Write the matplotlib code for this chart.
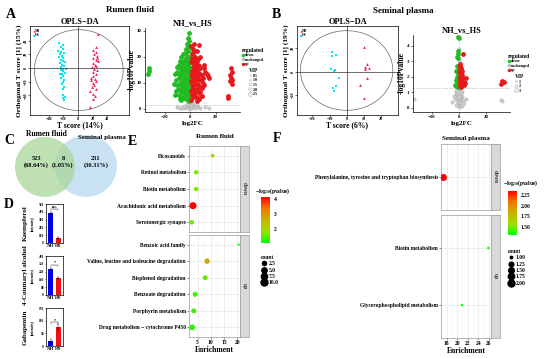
import matplotlib
matplotlib.use('Agg')
import matplotlib.pyplot as plt
from matplotlib.patches import Ellipse, Circle
from matplotlib.lines import Line2D
from matplotlib.colors import LinearSegmentedColormap, Normalize
from matplotlib.cm import ScalarMappable
import numpy as np

plt.rcParams['font.family'] = ['Liberation Serif', 'DejaVu Serif']
plt.rcParams['font.weight'] = 'bold'
plt.rcParams['axes.labelweight'] = 'bold'
plt.rcParams['axes.titleweight'] = 'bold'
plt.rcParams['axes.linewidth'] = 0.5
plt.rcParams['xtick.major.size'] = 1.5
plt.rcParams['ytick.major.size'] = 1.5
plt.rcParams['xtick.major.width'] = 0.4
plt.rcParams['ytick.major.width'] = 0.4
plt.rcParams['xtick.major.pad'] = 1
plt.rcParams['ytick.major.pad'] = 1
plt.rcParams['mathtext.default'] = 'regular'

# ---------------- data ----------------
# A: OPLS-DA rumen fluid (T score, orthogonal T score)
A_nh = [(28, 50), (24, 30), (21, 27), (25, 24), (22, 20), (26, 18), (20, 15), (24, 12), (27, 10),
        (21, 8), (23, 5), (25, 3), (19, 1), (22, -1), (26, -3), (20, -6), (24, -8), (21, -11),
        (18, -14), (23, -16), (25, -19), (20, -22), (22, -25), (19, -28), (24, -30), (17, -33),
        (21, -38), (23, -41), (20, -45), (16, -57), (26, 14), (18, -18)]
A_hs = [(-26, 36), (-20, 34), (-24, 30), (-21, 28), (-27, 25), (-23, 24), (-19, 22), (-25, 20),
        (-22, 18), (-26, 16), (-20, 15), (-24, 12), (-21, 10), (-18, 9), (-25, 7), (-22, 5),
        (-19, 3), (-23, 1), (-20, -1), (-24, -3), (-21, -5), (-18, -7), (-22, -9), (-20, -12),
        (-23, -14), (-19, -17), (-21, -20), (-22, -24), (-19, -27), (-21, -30), (-20, -40),
        (-18, -42), (-21, -44), (-19, -47), (-17, -2), (-25, -8)]

# A: volcano rumen fluid (log2FC, -log10P)
A_down = [(-1, 29), (-1.5, 27), (-0.8, 24), (-2, 22), (-3, 21), (-1, 20), (-4, 19), (-2.5, 18.5),
          (-6, 18), (-5, 17.5), (-1.5, 17), (-3.5, 16.5), (-7, 16), (-8, 15.5), (-2, 15),
          (-4.5, 15), (-6, 14.5), (-1, 14), (-12, 13.5), (-3, 13.5), (-5, 13), (-7.5, 12.5),
          (-2, 12), (-9, 12), (-4, 11.5), (-6.5, 11), (-1.5, 10.5), (-3, 10), (-8, 10), (-5, 9.5),
          (-2.5, 9), (-10, 9), (-4, 8.5), (-6, 8), (-1, 8), (-3.5, 7.5), (-7, 7), (-2, 6.5),
          (-5, 6), (-9, 5.5), (-11, 7), (-3, 5), (-1.5, 4.5), (-6, 4.5), (-4, 4), (-2, 3.5),
          (-8, 3.8), (-12, 5.5), (-0.7, 3), (-32, 14.5), (-33, 13.5), (-32.5, 15.5), (-5.5, 21),
          (-7, 20), (-3.5, 23), (-9, 17), (-10.5, 14), (-0.5, 26), (-2.5, 20), (-4.5, 17),
          (-6.5, 16), (-3, 18), (-1, 16), (-5, 15.5), (-7, 14), (-2.5, 14), (-4, 13), (-8.5, 13.5),
          (-6, 12.5), (-1.2, 12), (-3.5, 11), (-5.5, 10.5), (-7.5, 9), (-2, 10), (-4.5, 7),
          (-6.5, 6.5), (-1, 6), (-3, 3.8), (-5, 4.3), (-9.5, 7.5), (-2.8, 25), (-1.8, 23.5),
          (-4.2, 21.5), (-0.6, 18.5), (-8, 18.5), (-10, 16), (-11, 11), (-13, 9.5), (-7, 3.5)]
A_up = [(1, 24), (2, 23), (3, 22), (1.5, 21), (4, 20), (2.5, 19), (5, 18.5), (1, 18), (6, 17),
        (3.5, 16.5), (7, 24.5), (2, 16), (8, 15.5), (4.5, 15), (1.5, 14.5), (6, 14), (3, 13.5),
        (9, 13), (5, 12.5), (2, 12), (7, 11.5), (4, 11), (1, 10.5), (10, 10), (6, 9.5), (3, 9),
        (8, 8.5), (2, 8), (5, 7.5), (1, 7), (4, 6.5), (7, 6), (3, 5.5), (9, 5), (2, 4.5), (6, 4),
        (1, 3.5), (5, 3.2), (12, 14), (13, 13.5), (14, 12.5), (15, 12), (32, 15.5), (33, 14),
        (31.5, 13), (32, 12), (33, 11), (31, 10.5), (32.5, 9.5), (30, 5), (29.5, 4), (11, 17),
        (8, 20), (5.5, 22), (10, 12), (3, 25), (2.5, 21.5), (4, 17.5), (6.5, 19), (1.2, 19.5),
        (3, 15), (5, 16), (7.5, 13.5), (1, 13), (4, 13), (6, 11.5), (2.5, 10.5), (8.5, 11),
        (5, 9.5), (1.5, 9), (3.5, 7), (6.5, 7.5), (2, 6), (8, 6.5), (4.5, 4.5), (1.5, 5.5),
        (7, 3.8), (9.5, 8), (3.5, 19), (2, 17.5), (5.5, 13.5), (11, 9), (10.5, 15.5), (7, 16.5)]
A_unch = [(0, 1), (0.5, 2), (-0.5, 1.5), (1, 0.5), (-1, 0.8), (2, 1.2), (-2, 0.6), (0, 0.3),
          (3, 0.9), (-3, 1.1), (0.2, 3), (-0.2, 4), (0.1, 6), (0, 8), (-0.1, 10), (0.3, 12),
          (-0.3, 14), (0, 16), (0.1, 18), (0, 20), (-0.2, 22), (0.2, 1.8), (4, 0.4), (-4, 0.5),
          (6, 0.7), (-6, 0.3), (8, 0.5), (-8, 0.4), (12, 0.6), (15, 0.3), (-10, 0.8), (1.5, 2.5),
          (-1.5, 2.4), (0.5, 0.2), (-0.5, 0.1), (2.5, 2), (-2.5, 1.8), (1, 1.4), (-1, 2.1),
          (5, 1.3), (-5, 1.2), (0.2, 5), (-0.1, 7), (0.1, 9), (0, 11)]

# B: OPLS-DA seminal plasma
B_nh = [(10.4, 21.1), (11.6, 6.7), (10.8, 3.9), (11.0, 2.5), (13.1, 3.3), (12.0, -5.8),
        (7.9, -11.4), (10.1, -22.5)]
B_hs = [(-8.8, 16.4), (-8.4, 13.6), (-6.1, 14.4), (-9.0, 2.2), (-7.0, 1.6), (-7.5, 0.6),
        (-4.7, -5.6), (-7.8, -14.2), (-6.1, -12.2), (-7.3, -16.4)]

# B: volcano seminal plasma
B_down = [(-0.5, 4.6), (-0.3, 4.5), (-1, 3.7), (-0.8, 3.5), (-1.5, 3.3), (-0.5, 3.2), (-1.2, 2.7),
          (-0.3, 2.5), (-2, 2.4), (-1, 2.3), (-0.6, 2.1), (-1.8, 2), (-0.4, 1.9), (-2.5, 1.8),
          (-1.2, 1.7), (-0.8, 1.6), (-3, 1.5), (-1.6, 1.5), (-0.3, 1.45), (-2.2, 1.4), (-1, 1.38)]
B_up = [(0.5, 2.8), (1, 2.7), (1.5, 2.6), (0.8, 2.5), (2, 2.4), (0.4, 2.3), (1.2, 2.2), (2.5, 2.1),
        (0.6, 2.0), (1.8, 1.95), (3, 1.9), (0.9, 1.85), (2.2, 1.8), (1.4, 1.75), (4, 1.7),
        (0.5, 1.65), (2.8, 1.6), (1.1, 1.55), (3.5, 1.5), (2, 1.45), (0.7, 1.4), (1.6, 1.35),
        (5, 1.9), (4.5, 1.6), (3, 3.5), (32, 1.75), (33, 1.65), (31.5, 1.55)]
B_unch = [(0, 0.05), (0.5, 0.2), (-0.5, 0.3), (1, 0.4), (-1, 0.5), (1.5, 0.6), (-1.5, 0.7), (2, 0.8),
          (-2, 0.9), (2.5, 1.0), (-2.5, 1.1), (3, 0.5), (-3, 0.6), (0.3, 1.2), (-0.3, 0.9),
          (0.8, 0.7), (-0.8, 0.4), (4, 0.3), (-4, 0.8), (5, 0.6), (-5, 0.4), (1.2, 1.0),
          (-1.2, 1.15), (0.1, 0.6), (-0.1, 0.8), (2, 0.15), (-2, 0.2), (0, 2.5), (0, 3.0),
          (0.1, 3.8), (0, 1.6), (-33, 0.6), (31, 0.5), (32, 0.45)]

# C: Venn
venn_counts = [523, 8, 231]
venn_pct = ['68.64%', '1.05%', '30.31%']

# D: bar charts
D_names = ['Kaempferol', '4-Coumaryl alcohol', 'Gabapentin']
D_nh = [380, 262, 20]
D_hs = [65, 175, 75]
D_nh_err = [15, 10, 8]
D_hs_err = [10, 8, 10]
D_ymax = [500, 400, 150]
D_sig = ['n.s.', '*', '*']

# E: KEGG enrichment, rumen fluid
E_down_terms = ['Eicosanoids', 'Retinol metabolism', 'Biotin metabolism',
                'Arachidonic acid metabolism', 'Serotonergic synapse']
E_down_enrich = [10.7, 4.5, 4.5, 3.3, 2.9]
E_down_count = [2, 3, 3, 10, 3]
E_down_p = [2.1, 1.7, 1.7, 4.13, 1.6]
E_up_terms = ['Benzoic acid family', 'Valine, leucine and isoleucine degradation',
              'Bisphenol degradation', 'Benzoate degradation', 'Porphyrin metabolism',
              'Drug metabolism \u2212 cytochrome P450']
E_up_enrich = [20.5, 8.6, 7.9, 4.1, 3.6, 3.0]
E_up_count = [1, 5, 4, 4, 4, 6]
E_up_p = [1.1, 2.7, 1.6, 1.4, 1.4, 1.3]

# F: KEGG enrichment, seminal plasma
F_down_terms = ['Phenylalanine, tyrosine and tryptophan biosynthesis']
F_down_enrich = [17.3]
F_down_count = [2]
F_down_p = [2.34]
F_up_terms = ['Biotin metabolism', 'Glycerophospholipid metabolism']
F_up_enrich = [25.9, 20.9]
F_up_count = [1, 1]
F_up_p = [1.31, 1.31]

RED = '#ee1b4f'
CYAN = '#00e6f0'
GREEN = '#22bb22'
VRED = '#e41a1c'

# ---------------- figure ----------------
W, H = 550, 359
fig = plt.figure(figsize=(5.5, 3.59), dpi=100)


def add_ax(x0, y0, x1, y1):
    return fig.add_axes([x0 / W, 1 - y1 / H, (x1 - x0) / W, (y1 - y0) / H])


def ftext(x, y, s, **kw):
    fig.text(x / W, 1 - y / H, s, **kw)


def opls(box, xlim, ylim, ell, nh, hs, xlabel, ylabel, xticks, yticks):
    ax = add_ax(*box)
    ax.add_patch(Ellipse(ell[:2], ell[2], ell[3], fill=False, ec='#666666', lw=0.5))
    ax.axhline(0, color='#333333', lw=0.5)
    ax.axvline(0, color='#333333', lw=0.5)
    ax.scatter([p[0] for p in nh], [p[1] for p in nh], marker='^', s=4, c=RED, lw=0, label='NH')
    ax.scatter([p[0] for p in hs], [p[1] for p in hs], marker='s', s=4, c=CYAN, lw=0, label='HS')
    ax.set_xlim(*xlim)
    ax.set_ylim(*ylim)
    ax.set_xticks(xticks)
    ax.set_yticks(yticks)
    ax.tick_params(labelsize=3, pad=0.5, length=1.2)
    plt.setp(ax.get_yticklabels(), rotation=90, va='center')
    ax.set_title('OPLS\u2212DA', fontsize=6, pad=1.5)
    ax.set_xlabel(xlabel, fontsize=5.5, labelpad=0)
    ax.set_ylabel(ylabel, fontsize=5.3, labelpad=1)
    ax.legend(loc='upper left', fontsize=2.5, frameon=False, handletextpad=0.1,
              borderpad=0.3, labelspacing=0.2, markerscale=0.8, handlelength=0.6)
    return ax


def volcano(box, xlim, ylim, down, up, unch, xticks, yticks, leg_xy, vip_labels, vip_sizes):
    ax = add_ax(*box)
    ax.scatter([p[0] for p in unch], [p[1] for p in unch], s=6, c='#cccccc',
               edgecolors='#999999', lw=0.2, zorder=2)
    ax.scatter([p[0] for p in down], [p[1] for p in down], s=12, c=GREEN, lw=0, zorder=3)
    ax.scatter([p[0] for p in up], [p[1] for p in up], s=12, c=VRED, lw=0, zorder=3)
    ax.axhline(1.3, color='#aaaaaa', lw=0.5, ls=(0, (2, 2)), zorder=1)
    ax.axvline(0, color='#aaaaaa', lw=0.5, ls=(0, (1, 1.5)), zorder=1)
    ax.set_xlim(*xlim)
    ax.set_ylim(*ylim)
    ax.set_xticks(xticks)
    ax.set_yticks(yticks)
    ax.tick_params(labelsize=3.5)
    for s in ['top', 'right']:
        ax.spines[s].set_visible(False)
    ax.set_title('NH_vs_HS', fontsize=6, pad=2)
    ax.set_xlabel('log2FC', fontsize=5, labelpad=1)
    ax.set_ylabel('-log10Pvalue', fontsize=5.5, labelpad=1)
    h1 = [Line2D([], [], marker='o', ls='', color=GREEN, ms=1.5),
          Line2D([], [], marker='o', ls='', color='#bbbbbb', ms=1.5),
          Line2D([], [], marker='o', ls='', color=VRED, ms=1.5)]
    fig.legend(h1, ['down', 'unchanged', 'up'], title='regulated', loc='upper left',
               bbox_to_anchor=(leg_xy[0] / W, 1 - leg_xy[1] / H), fontsize=3, title_fontsize=4,
               frameon=False, handletextpad=0.1, labelspacing=0.1, borderpad=0,
               handlelength=0.6, alignment='left')
    h2 = [Line2D([], [], marker='o', ls='', mfc='#eeeeee', mec='#aaaaaa', mew=0.3, ms=m)
          for m in vip_sizes]
    fig.legend(h2, vip_labels, title='VIP', loc='upper left',
               bbox_to_anchor=(leg_xy[0] / W + 0.012, 1 - (leg_xy[1] + 20) / H), fontsize=3,
               title_fontsize=4, frameon=False, handletextpad=0.2, labelspacing=0.15,
               borderpad=0, handlelength=0.8, alignment='left')
    return ax


# panel letters and headings
ftext(11, 14, 'A', fontsize=10, ha='center', va='center')
ftext(276, 14, 'B', fontsize=10, ha='center', va='center')
ftext(9, 140, 'C', fontsize=10, ha='center', va='center')
ftext(9, 204, 'D', fontsize=10, ha='center', va='center')
ftext(132, 141, 'E', fontsize=10, ha='center', va='center')
ftext(277, 139, 'F', fontsize=10, ha='center', va='center')
ftext(130, 10, 'Rumen fluid', fontsize=6.5, ha='center', va='center')
ftext(403, 11, 'Seminal plasma', fontsize=6.5, ha='center', va='center')

opls((30, 26, 129, 115), (-66, 70), (-68.6, 61.4), (1, -3, 122, 118), A_nh, A_hs,
     'T score (14%)', 'Orthogonal T score [1] (15%)', [-40, -20, 0, 20, 40], [-40, -20, 0, 20, 40])
opls((297, 26, 398, 115), (-29, 30), (-37, 39), (0, 1, 54, 68), B_nh, B_hs,
     'T score (6%)', 'Orthogonal T score [1] (19%)', [-20, -10, 0, 10, 20], [-20, 0, 20])

volcano((145, 28, 240, 112), (-35.3, 39), (-1.2, 31), A_down, A_up, A_unch,
        [-20, 0, 20], [0, 10, 20, 30], (240, 46), ['0.5', '1.0', '1.5', '2.0', '2.5'],
        [1, 1.5, 2, 2.5, 3])
volcano((413, 35, 510, 112), (-34, 37.8), (-0.26, 4.7), B_down, B_up, B_unch,
        [-20, 0, 20], [0, 1, 2, 3, 4], (506, 52), ['1', '2', '3'], [1.5, 2.2, 3])

# C: Venn
axc = add_ax(0, 128, 130, 200)
axc.set_xlim(0, 130)
axc.set_ylim(200, 128)
axc.axis('off')
axc.add_patch(Circle((86, 166), 31, fc='#c9e2f3', ec='none'))
axc.add_patch(Circle((45, 167), 30, fc='#a8d69a', ec='none', alpha=0.75))
for xc, n, p in zip([36, 63, 96], venn_counts, venn_pct):
    axc.text(xc, 162, f'{n}\n({p})', fontsize=4.5, ha='center', va='center', linespacing=1.1)
ftext(46, 134, 'Rumen fluid', fontsize=5.5, ha='center', va='center')
ftext(102, 138, 'Seminal plasma', fontsize=5, ha='center', va='center')

# D: bars
D_boxes = [(46, 204, 63, 243), (46, 256, 63, 295), (46, 308, 63, 346)]
for i, box in enumerate(D_boxes):
    ax = add_ax(*box)
    ax.bar([0, 1], [D_nh[i], D_hs[i]], width=0.65, color=['#0000ee', '#ee1111'],
           yerr=[D_nh_err[i], D_hs_err[i]], error_kw=dict(lw=0.3, capsize=0.6, capthick=0.3))
    ax.set_xlim(-0.6, 1.6)
    ax.set_ylim(0, D_ymax[i])
    ax.set_yticks(np.linspace(0, D_ymax[i], 6 if D_ymax[i] != 150 else 4))
    ax.set_xticks([0, 1], ['NH', 'HS'])
    ax.tick_params(axis='y', labelsize=2.5, length=1, pad=0.5)
    ax.tick_params(axis='x', labelsize=3.5, length=0, pad=1)
    top = max(D_nh[i], D_hs[i]) + 0.12 * D_ymax[i]
    ax.plot([0, 0, 1, 1], [top - 0.03 * D_ymax[i], top, top, top - 0.03 * D_ymax[i]],
            color='black', lw=0.3)
    ax.text(0.5, top, D_sig[i], fontsize=3, ha='center', va='bottom')
    yc = (box[1] + box[3]) / 2
    ftext(25, yc, D_names[i], fontsize=5, rotation=90, ha='center', va='center')
    ftext(33, yc, '(intensity)', fontsize=2.5, rotation=90, ha='center', va='center')

# E / F: enrichment bubble plots
cmap = LinearSegmentedColormap.from_list('gr', ['#00ff00', '#9ee000', '#c8b400', '#f07800', '#ff0000'])


def size_of(c, cmin, cmax, dmin, dmax):
    d = dmin + (dmax - dmin) * np.sqrt((np.array(c, float) - cmin) / (cmax - cmin))
    return (d * 0.72) ** 2


def facet(box, sbox, terms, enrich, count, pv, norm, xlim, xticks, minor, label, csz, show_x):
    ax = add_ax(*box)
    n = len(terms)
    ys = np.arange(n)
    ax.set_axisbelow(True)
    ax.scatter(enrich, ys, s=size_of(count, *csz), c=pv, cmap=cmap, norm=norm, lw=0, zorder=3)
    ax.set_ylim(n - 0.42, -0.58)
    ax.set_xlim(*xlim)
    ax.set_yticks(ys, terms)
    ax.set_xticks(xticks)
    ax.set_xticks(minor, minor=True)
    ax.grid(True, which='major', color='#e6e6e6', lw=0.5)
    ax.grid(True, which='minor', axis='x', color='#f2f2f2', lw=0.3)
    ax.tick_params(which='minor', length=0)
    ax.tick_params(axis='y', labelsize=4, length=1.2, color='#333333', pad=1)
    ax.tick_params(axis='x', labelsize=4, length=1.2, color='#333333', pad=1)
    for s in ax.spines.values():
        s.set_color('#999999')
    if not show_x:
        ax.tick_params(axis='x', labelbottom=False, length=0)
    sax = add_ax(*sbox)
    sax.set_facecolor('#d9d9d9')
    sax.set_xticks([])
    sax.set_yticks([])
    for s in sax.spines.values():
        s.set_color('#999999')
    sax.text(0.5, 0.5, label, rotation=-90, fontsize=4, ha='center', va='center',
             transform=sax.transAxes, color='#333333')
    return ax


def size_legend(x, y, vals, labels, csz):
    hs = [Line2D([], [], marker='o', ls='', color='black',
                 ms=float(np.sqrt(size_of([v], *csz)[0]))) for v in vals]
    fig.legend(hs, labels, title='count', loc='upper left', bbox_to_anchor=(x / W, 1 - y / H),
               fontsize=4, title_fontsize=4, frameon=False, handletextpad=0.4,
               labelspacing=0.25, borderpad=0, handlelength=1.0, alignment='left')


# E
E_norm = Normalize(min(E_down_p + E_up_p), max(E_down_p + E_up_p))
E_csz = (1, 10, 2.2, 7)
facet((189, 146, 240, 232), (240, 146, 249, 232), E_down_terms, E_down_enrich, E_down_count,
      E_down_p, E_norm, (1.8, 21), [5, 10, 15, 20], [2.5, 7.5, 12.5, 17.5], 'down', E_csz, False)
axe = facet((189, 235, 240, 337), (240, 235, 249, 337), E_up_terms, E_up_enrich, E_up_count,
            E_up_p, E_norm, (1.8, 21), [5, 10, 15, 20], [2.5, 7.5, 12.5, 17.5], 'up', E_csz, True)
axe.set_xlabel('Enrichment', fontsize=5.5, labelpad=1)
ftext(215, 137, 'Rumen fluid', fontsize=5, ha='center', va='center')
cax = add_ax(261, 197, 270, 243)
cb = fig.colorbar(ScalarMappable(norm=E_norm, cmap=cmap), cax=cax, ticks=[2, 3, 4])
cb.outline.set_visible(False)
cax.tick_params(labelsize=4, length=1.5, color='white', pad=1)
ftext(255, 191, '\u2212log$_{10}$(pvalue)', fontsize=4, ha='left', va='center')
size_legend(258, 252, [2.5, 5.0, 7.5, 10.0], ['2.5', '5.0', '7.5', '10.0'], E_csz)

# F
F_norm = Normalize(min(F_down_p + F_up_p), max(F_down_p + F_up_p))
F_csz = (1, 2, 2.5, 7)
facet((441, 144, 491, 210), (491, 144, 500, 210), F_down_terms, F_down_enrich, F_down_count,
      F_down_p, F_norm, (16.9, 26.4), [18, 20, 22, 24, 26], [19, 21, 23, 25], 'down', F_csz, False)
axf = facet((441, 215, 491, 338), (491, 215, 500, 338), F_up_terms, F_up_enrich, F_up_count,
            F_up_p, F_norm, (16.9, 26.4), [18, 20, 22, 24, 26], [19, 21, 23, 25], 'up', F_csz, True)
axf.set_xlabel('Enrichment', fontsize=5.5, labelpad=1)
ftext(466, 139, 'Seminal plasma', fontsize=5, ha='center', va='center')
cax2 = add_ax(508, 191, 517, 235)
cb2 = fig.colorbar(ScalarMappable(norm=F_norm, cmap=cmap), cax=cax2, ticks=[1.5, 1.75, 2.0, 2.25])
cb2.outline.set_visible(False)
cax2.set_yticklabels(['1.50', '1.75', '2.00', '2.25'])
cax2.tick_params(labelsize=4, length=1.5, color='white', pad=1)
ftext(503, 183, '\u2212log$_{10}$(pvalue)', fontsize=4, ha='left', va='center')
size_legend(505, 246, [1.0, 1.25, 1.5, 1.75, 2.0], ['1.00', '1.25', '1.50', '1.75', '2.00'], F_csz)

fig.savefig('out.png', dpi=100)
